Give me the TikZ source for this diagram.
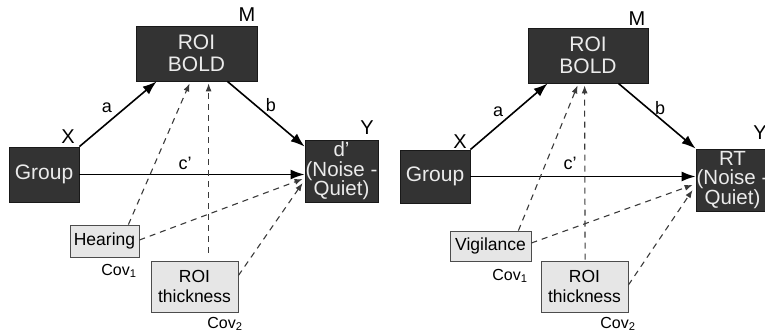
\documentclass[tikz,border=0pt]{standalone}
\usepackage{fontspec}
\setmainfont{Liberation Sans}
\usetikzlibrary{arrows.meta,calc}
\definecolor{boxdark}{HTML}{333333}
\definecolor{boxlight}{HTML}{E6E6E6}
\definecolor{dashgray}{HTML}{3A3A3A}
\begin{document}
\begin{tikzpicture}[x=1pt,y=-1pt,
  darkbox/.style={draw=black!90,fill=boxdark,text=white!92!black,line width=0.8pt,
    inner sep=0pt,align=center,font=\fontsize{21}{21}\selectfont},
  lightbox/.style={draw=black!70,fill=boxlight,text=black,line width=0.8pt,
    inner sep=0pt,align=center,font=\fontsize{17.5}{19.5}\selectfont},
  tag/.style={font=\fontsize{20}{20}\selectfont,inner sep=0pt},
  pathlbl/.style={font=\fontsize{18}{18}\selectfont,inner sep=0pt},
  covlbl/.style={font=\fontsize{16}{16}\selectfont,inner sep=0pt},
  solidarrow/.style={line width=1.6pt,-{Latex[length=14pt,width=10pt]}},
  dasharrow/.style={draw=dashgray,line width=1.1pt,dash pattern=on 6pt off 5pt,
    -{Latex[length=8pt,width=6pt]}},
]
\useasboundingbox (0,0) rectangle (765,336);

% ---------- left model: d' ----------
\node[darkbox,minimum width=121pt,minimum height=55pt] (LM) at (196.5,53.5) {ROI\\[1pt]BOLD};
\node[darkbox,minimum width=70pt,minimum height=55pt] (LX) at (44,174.5) {Group};
\node[darkbox,minimum width=73pt,minimum height=62pt,font=\fontsize{20.5}{19.5}\selectfont] (LY) at (341.5,171) {d’\\(Noise -\\Quiet)};
\node[lightbox,minimum width=69pt,minimum height=32pt] (LC1) at (104.5,241) {Hearing};
\node[lightbox,minimum width=87pt,minimum height=51pt] (LC2) at (194.5,286.5) {ROI\\thickness};

\node[tag] (LMt) at (247,15) {M};
\node[tag] (LXt) at (68,137) {X};
\node[tag] (LYt) at (367,128) {Y};
\node[covlbl] (LC1t) at (119,271) {Cov\textsubscript{1}};
\node[covlbl] (LC2t) at (225,324) {Cov\textsubscript{2}};

\node[pathlbl] (La) at (107,108) {a};
\node[pathlbl] (Lb) at (271,105) {b};
\node[pathlbl] (Lc) at (185,163) {c’};

\draw[solidarrow] (LX.north east) -- ($(LM.south west)+(21,0)$);
\draw[solidarrow] ($(LM.south east)+(-30,0)$) -- ($(LY.north west)+(0,7)$);
\draw[solidarrow] (LX.east) -- (LX.east -| LY.west);

\draw[dasharrow] ($(LC1.north east)+(-11,0)$) -- ($(LM.south west)+(54,2)$);
\draw[dasharrow] ($(LC2.north west)+(58,-8)$) -- ($(LM.south west)+(73,2)$);
\draw[dasharrow] ($(LC1.east)+(0,-1)$) -- ($(LY.west)+(-2,8)$);
\draw[dasharrow] ($(LC2.east)+(0,-11)$) -- ($(LY.west)+(-2,12)$);

% ---------- right model: RT ----------
\node[darkbox,minimum width=120pt,minimum height=55pt] (RM) at (588,55.5) {ROI\\[1pt]BOLD};
\node[darkbox,minimum width=70pt,minimum height=53pt] (RX) at (435,176.5) {Group};
\node[darkbox,minimum width=73pt,minimum height=62pt,font=\fontsize{20.5}{19.5}\selectfont] (RY) at (732.5,180) {RT\\(Noise -\\Quiet)};
\node[lightbox,minimum width=81pt,minimum height=30pt] (RC1) at (490.5,246) {Vigilance};
\node[lightbox,minimum width=87pt,minimum height=51pt] (RC2) at (584.5,286.5) {ROI\\thickness};

\node[tag] (RMt) at (637,19) {M};
\node[tag] (RXt) at (460,142) {X};
\node[tag] (RYt) at (760,133) {Y};
\node[covlbl] (RC1t) at (510,276) {Cov\textsubscript{1}};
\node[covlbl] (RC2t) at (618,324) {Cov\textsubscript{2}};

\node[pathlbl] (Ra) at (498,112) {a};
\node[pathlbl] (Rb) at (660,108) {b};
\node[pathlbl] (Rc) at (570,163) {c’};

\draw[solidarrow] (RX.north east) -- ($(RM.south west)+(20,0)$);
\draw[solidarrow] ($(RM.south east)+(-30,0)$) -- (RY.north west);
\draw[solidarrow] (RX.east) -- (RX.east -| RY.west);

\draw[dasharrow] ($(RC1.north east)+(-13,0)$) -- ($(RM.south west)+(50,2)$);
\draw[dasharrow] ($(RC2.north west)+(44.5,-1)$) -- ($(RM.south west)+(57,2)$);
\draw[dasharrow] ($(RC1.east)+(0,-3)$) -- ($(RY.west)+(-3,5)$);
\draw[dasharrow] ($(RC2.east)+(0,-1.5)$) -- ($(RY.west)+(-3,10)$);
\end{tikzpicture}
\end{document}
